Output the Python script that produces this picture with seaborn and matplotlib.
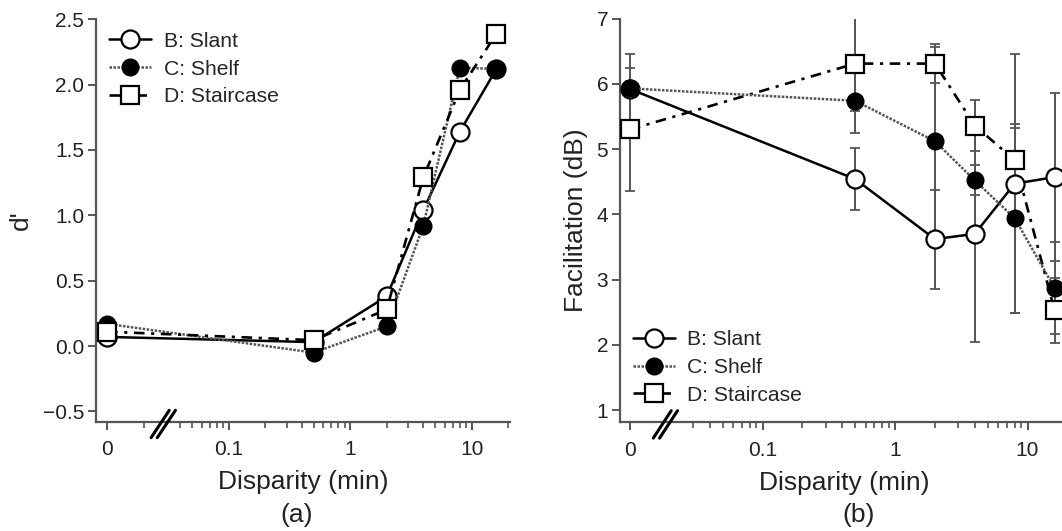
import numpy as np
import matplotlib
matplotlib.use("Agg")
import matplotlib.pyplot as plt
from matplotlib.ticker import FixedLocator, NullFormatter
import seaborn as sns

# ==========================================
# DATA
# ==========================================

disparity = [0, 0.5, 2, 4, 8, 16]
zero_pos = 0.01  # where disparity 0 sits on the log axis
labels = ["B: Slant", "C: Shelf", "D: Staircase"]

# (a) d'
dprime_slant = [0.07, 0.03, 0.38, 1.04, 1.64, 2.12]
dprime_shelf = [0.17, -0.05, 0.15, 0.92, 2.13, 2.12]
dprime_stair = [0.11, 0.045, 0.28, 1.29, 1.96, 2.39]

# (b) facilitation (dB) and error bars
fac_slant = [5.92, 4.54, 3.62, 3.70, 4.47, 4.57]
fac_shelf = [5.93, 5.74, 5.12, 4.52, 3.94, 2.87]
fac_stair = [5.30, 6.31, 6.31, 5.36, 4.83, 2.53]
err_slant = [0.53, 0.48, 0.76, 1.65, 1.98, 1.29]
err_shelf = [0.12, 0.50, 1.45, 0.23, 1.45, 0.70]
err_stair = [0.95, 0.73, 0.30, 0.39, 0.50, 0.50]

x_major = [zero_pos, 0.1, 1, 10]
x_major_labels = ["0", "0.1", "1", "10"]
minor_a = [0.02, 0.04, 0.05, 0.06, 0.07, 0.08, 0.09] + \
    [k / 10 for k in range(2, 10)] + list(range(2, 10)) + [20]
minor_b = [0.03, 0.04, 0.05, 0.06, 0.07, 0.08, 0.09] + \
    [k / 10 for k in range(2, 10)] + list(range(2, 10)) + [20]

# ==========================================
# STYLE
# ==========================================

sns.set_theme(style="ticks")
plt.rcParams["font.family"] = ["Liberation Sans", "DejaVu Sans"]
axis_grey = "#555555"
text_col = "#222222"

x_plot = [zero_pos if d == 0 else d for d in disparity]

styles = {
    "B: Slant": dict(color="black", ls="-", lw=1.8, marker="o", ms=13,
                     mfc="white", mec="black", mew=1.6),
    "C: Shelf": dict(color="#555555", ls=(0, (1, 0.6)), lw=1.8, marker="o",
                     ms=12, mfc="black", mec="black", mew=1.0),
    "D: Staircase": dict(color="black", ls=(0, (4, 2.5, 1.2, 2.5)), lw=1.9,
                         marker="s", ms=12.5, mfc="white", mec="black", mew=1.6),
}

fig = plt.figure(figsize=(10.62, 5.31), dpi=100)
ax_a = fig.add_axes([0.0904, 0.206, 0.3895, 0.7577])
ax_b = fig.add_axes([0.5838, 0.2053, 0.4228, 0.7597])


def style_axis(ax, minor_ticks, xlim):
    ax.set_xscale("log")
    ax.set_xlim(*xlim)
    ax.xaxis.set_major_locator(FixedLocator(x_major))
    ax.set_xticklabels(x_major_labels)
    ax.xaxis.set_minor_locator(FixedLocator(minor_ticks))
    ax.xaxis.set_minor_formatter(NullFormatter())
    for side in ["top", "right"]:
        ax.spines[side].set_visible(False)
    for side in ["left", "bottom"]:
        ax.spines[side].set_color(axis_grey)
        ax.spines[side].set_linewidth(1.6)
    ax.tick_params(which="major", direction="out", length=5.5, width=1.4,
                   color=axis_grey, labelsize=15, labelcolor=text_col, pad=3)
    ax.tick_params(axis="x", which="major", pad=8)
    ax.tick_params(which="minor", direction="out", length=4, width=1.2,
                   color=axis_grey)
    ax.set_xlabel("Disparity (min)", fontsize=19, color=text_col, labelpad=8)


def draw_break(ax, xb, half_w, gap):
    x0 = ax.transAxes.inverted().transform(ax.transData.transform((xb, 1)))[0]
    for dx in (-gap, gap):
        ax.plot([x0 + dx + half_w, x0 + dx - half_w], [0.028, -0.04],
                transform=ax.transAxes, color="black", lw=2.2,
                clip_on=False, zorder=10)


# ==========================================
# PANEL (a)
# ==========================================

series_a = [dprime_slant, dprime_shelf, dprime_stair]
for i, (lab, vals) in enumerate(zip(labels, series_a)):
    sns.lineplot(x=x_plot, y=vals, ax=ax_a, label=lab, sort=False,
                 estimator=None, zorder=3 + i, **styles[lab])

style_axis(ax_a, minor_a, (10 ** -2.091, 10 ** 1.313))
ax_a.set_ylim(-0.578, 2.5)
ticks_a = np.arange(-0.5, 2.51, 0.5)
ax_a.set_yticks(ticks_a)
ax_a.set_yticklabels([f"{v:.1f}".replace("-", "\u2212") for v in ticks_a])
ax_a.set_ylabel("d'", fontsize=19, color=text_col, labelpad=7)
draw_break(ax_a, 0.029, 0.022, 0.0075)

ax_a.legend(loc="upper left", bbox_to_anchor=(-0.005, 1.006), frameon=False,
            fontsize=15.2, handlelength=2.0, handletextpad=0.6,
            labelspacing=0.42, numpoints=1, borderaxespad=0.3)

# ==========================================
# PANEL (b)
# ==========================================

series_b = [fac_slant, fac_shelf, fac_stair]
errors_b = [err_slant, err_shelf, err_stair]
order_b = {"D: Staircase": 3, "B: Slant": 4, "C: Shelf": 5}
for lab, vals, err in zip(labels, series_b, errors_b):
    ax_b.errorbar(x_plot, vals, yerr=err, fmt="none", ecolor="#555555",
                  elinewidth=1.4, capsize=3.5, capthick=1.3, zorder=2)
for lab, vals in zip(labels, series_b):
    sns.lineplot(x=x_plot, y=vals, ax=ax_b, label=lab, sort=False,
                 estimator=None, zorder=order_b[lab], **styles[lab])

style_axis(ax_b, minor_b, (10 ** -2.0755, 10 ** 1.313))
ax_b.set_ylim(0.817, 7)
ax_b.set_yticks(range(1, 8))
ax_b.set_ylabel("Facilitation (dB)", fontsize=19, color=text_col, labelpad=6)
draw_break(ax_b, 0.0185, 0.02, 0.007)

ax_b.legend(loc="lower left", bbox_to_anchor=(-0.005, 0.006), frameon=False,
            fontsize=15.2, handlelength=2.0, handletextpad=0.6,
            labelspacing=0.42, numpoints=1, borderaxespad=0.3)

# ==========================================
# PANEL LETTERS
# ==========================================

fig.text(0.279, 0.008, "(a)", ha="center", va="bottom", fontsize=19, color=text_col)
fig.text(0.808, 0.008, "(b)", ha="center", va="bottom", fontsize=19, color=text_col)

fig.savefig("out.png", dpi=100)
